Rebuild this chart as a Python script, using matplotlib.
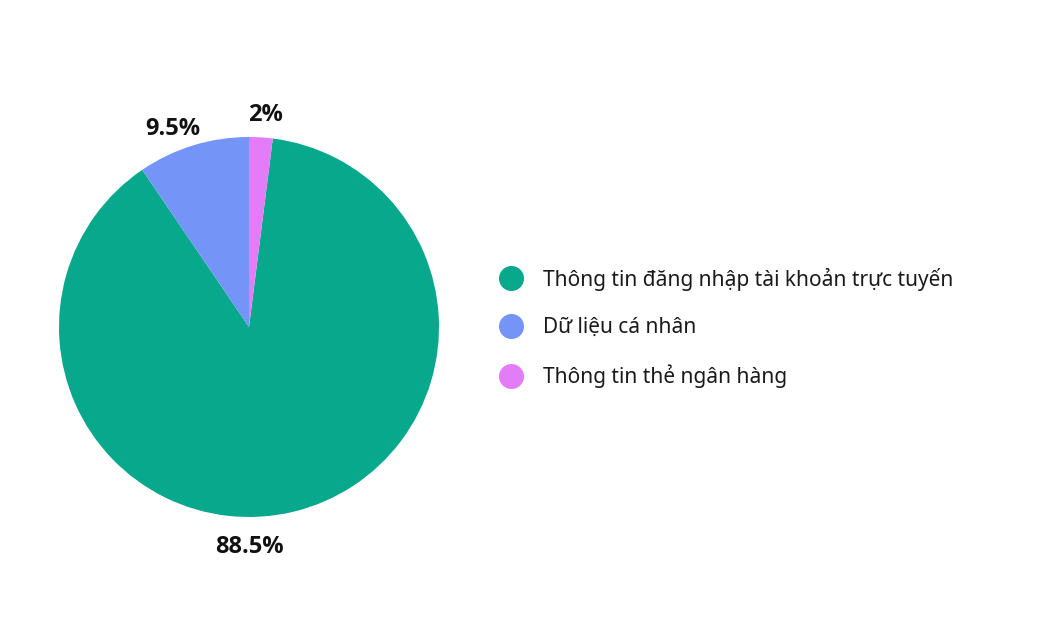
import matplotlib
matplotlib.use("Agg")
import matplotlib.pyplot as plt
from matplotlib.lines import Line2D
import numpy as np

plt.rcParams['font.family'] = ['Noto Sans', 'DejaVu Sans']

categories = ["Thông tin đăng nhập tài khoản trực tuyến", "Dữ liệu cá nhân", "Thông tin thẻ ngân hàng"]
values = [88.5, 9.5, 2.0]
value_labels = ["88.5%", "9.5%", "2%"]
colors = ["#08A88C", "#7494F8", "#E37CF8"]

fig = plt.figure(figsize=(10.4, 6.17), dpi=100)
W, H = 1040, 617
cx, cy, r = 249, 327, 190
ax = fig.add_axes([(cx - r) / W, (H - cy - r) / H, 2 * r / W, 2 * r / H])
wedges, _ = ax.pie(values, colors=colors, startangle=82.8, counterclock=False,
                   radius=1.0, wedgeprops=dict(linewidth=0))
ax.set_xlim(-1, 1)
ax.set_ylim(-1, 1)
ax.set_aspect('equal')
ax.axis('off')

# label placement (angle in degrees, distance in radii)
label_angles = [-90, 111, 85.5]
label_dists = [1.157, 1.118, 1.12]
for lab, a, d in zip(value_labels, label_angles, label_dists):
    x = d * np.cos(np.radians(a))
    y = d * np.sin(np.radians(a))
    ax.text(x, y, lab, ha='center', va='center', fontsize=17, fontweight='bold',
            family=['Open Sans', 'DejaVu Sans'], color='#111111', clip_on=False)

handles = [Line2D([], [], marker='o', linestyle='none', markersize=17,
                  markerfacecolor=c, markeredgecolor=c) for c in colors]
leg = fig.legend(handles, categories, loc='center left',
                 bbox_to_anchor=(490 / W, 1 - 328 / H), frameon=False,
                 fontsize=15, labelspacing=1.28, handletextpad=0.95,
                 handlelength=1.2, borderaxespad=0)
for t in leg.get_texts():
    t.set_color('#1a1a1a')

fig.savefig("out.png", dpi=100, facecolor='white')
